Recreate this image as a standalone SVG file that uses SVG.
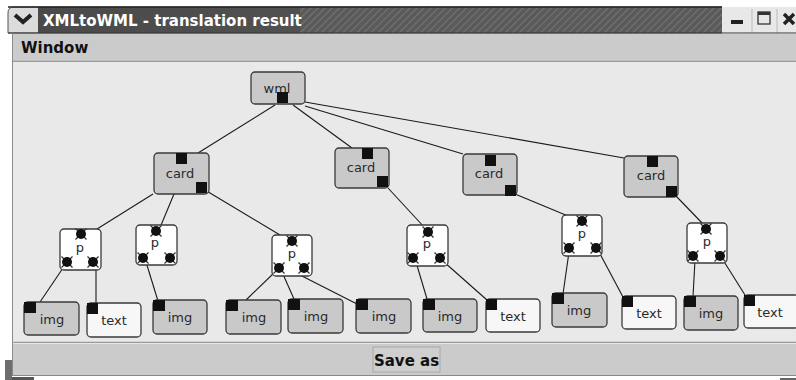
<svg xmlns="http://www.w3.org/2000/svg" width="796" height="380" viewBox="0 0 796 380">
  <defs>
    <style>
      .win { fill: #e9e9e9; }
      .bar { fill: #cbcbcb; }
      .sep { stroke: #9a9a9a; stroke-width: 1.5; }
      .title { font-family: "DejaVu Sans", "Liberation Sans", sans-serif; font-weight: bold; font-size: 15px; fill: #ffffff; }
      .menu { font-family: "DejaVu Sans", "Liberation Sans", sans-serif; font-weight: bold; font-size: 15px; fill: #111; }
      .btn { font-family: "DejaVu Sans", "Liberation Sans", sans-serif; font-weight: bold; font-size: 15px; fill: #111; }
      .box { stroke: #3a3a3a; stroke-width: 1.3; }
      .gray { fill: #c9c9c9; }
      .white { fill: #f7f7f7; }
      .pbox { fill: #ffffff; stroke: #3a3a3a; stroke-width: 1.3; }
      .lbl { font-family: "DejaVu Sans", "Liberation Sans", sans-serif; font-size: 13px; fill: #2a2a2a; text-anchor: middle; }
      .sq { fill: #111; }
      .edge { stroke: #1a1a1a; stroke-width: 1.1; fill: none; }
      .tick { stroke: #333; stroke-width: 1.2; }
    </style>
    <pattern id="stripes" width="5" height="5" patternUnits="userSpaceOnUse" patternTransform="rotate(45)">
      <rect width="5" height="5" fill="#5a5a5a"/>
      <line x1="0" y1="0" x2="0" y2="5" stroke="#7c7c7c" stroke-width="1.6"/>
    </pattern>
    <linearGradient id="tbar" x1="0" y1="0" x2="1" y2="0">
      <stop offset="0" stop-color="#4a4a4a"/>
      <stop offset="1" stop-color="#5a5a5a"/>
    </linearGradient>
    <!-- port marker used on p nodes: black dot with corner ticks -->
    <g id="port">
      <line class="tick" x1="-5.5" y1="-5.5" x2="5.5" y2="5.5"/>
      <line class="tick" x1="-5.5" y1="5.5" x2="5.5" y2="-5.5"/>
      <circle r="5" fill="#111"/>
    </g>
  </defs>

  <!-- background outside the window -->
  <rect width="796" height="380" fill="#ffffff"/>

  <!-- title bar -->
  <g id="titlebar">
    <path d="M8,33 L8,13 Q8,7 14,7 L722,7 L722,33 Z" fill="#dcdcdc" stroke="#555" stroke-width="1"/>
    <rect x="38" y="7" width="684" height="26" fill="url(#tbar)"/>
    <rect x="300" y="7" width="422" height="26" fill="url(#stripes)"/>
    <line x1="8" y1="7" x2="722" y2="7" stroke="#222" stroke-width="1.5"/>
    <path d="M15,15 L23,22 L31,15" fill="none" stroke="#222" stroke-width="4"/>
    <text class="title" x="43" y="26">XMLtoWML - translation result</text>
    <rect x="722" y="7" width="74" height="26" fill="#e8e8e8"/>
    <line x1="752" y1="9" x2="752" y2="33" stroke="#bbb"/>
    <line x1="777" y1="9" x2="777" y2="33" stroke="#bbb"/>
    <rect x="731" y="20" width="12" height="4" fill="#222"/>
    <rect x="758" y="12" width="12" height="12" fill="none" stroke="#333" stroke-width="1.3"/>
    <rect x="758" y="12" width="12" height="3" fill="#333"/>
    <path d="M784,14 L794,24 M794,14 L784,24" stroke="#222" stroke-width="3.5"/>
    <line x1="8" y1="33" x2="796" y2="33" stroke="#333" stroke-width="1"/>
  </g>

  <!-- menu bar -->
  <g id="menubar">
    <rect class="bar" x="12" y="34" width="784" height="27"/>
    <text class="menu" x="21" y="53">Window</text>
    <line class="sep" x1="12" y1="61.5" x2="796" y2="61.5"/>
  </g>

  <!-- drawing area -->
  <rect class="win" x="12" y="62" width="784" height="280"/>
  <line x1="12.5" y1="33" x2="12.5" y2="376" stroke="#8a8a8a" stroke-width="1"/>

  <!-- bottom bar -->
  <g id="savebar">
    <line class="sep" x1="12" y1="342.5" x2="796" y2="342.5"/>
    <rect class="bar" x="13" y="344" width="783" height="31"/>
    <line x1="12" y1="375.5" x2="796" y2="375.5" stroke="#8a8a8a"/>
    <rect x="373" y="347" width="67" height="25" fill="#cfcfcf" stroke="#a8a8a8" stroke-width="1"/>
    <text class="btn" x="406.5" y="366" text-anchor="middle">Save as</text>
    <rect x="5" y="360" width="7" height="20" fill="#6e6e6e"/>
    <rect x="12" y="377" width="22" height="3" fill="#555"/>
    <rect x="780" y="378" width="16" height="2" fill="#666"/>
  </g>

  <!-- connectors -->
  <g id="edges">
    <line class="edge" x1="275" y1="105" x2="198" y2="153"/>
    <line class="edge" x1="293" y1="105" x2="352" y2="148"/>
    <line class="edge" x1="305" y1="106" x2="463" y2="154"/>
    <line class="edge" x1="305" y1="102" x2="624" y2="158"/>
    <line class="edge" x1="153" y1="194" x2="97" y2="229"/>
    <line class="edge" x1="174" y1="194" x2="159" y2="230"/>
    <line class="edge" x1="205" y1="190" x2="280" y2="235"/>
    <line class="edge" x1="388" y1="188" x2="425" y2="228"/>
    <line class="edge" x1="515" y1="194" x2="568" y2="216"/>
    <line class="edge" x1="676" y1="196" x2="704" y2="225"/>
    <line class="edge" x1="63" y1="268" x2="40" y2="302"/>
    <line class="edge" x1="96" y1="268" x2="96" y2="304"/>
    <line class="edge" x1="146" y1="262" x2="158" y2="301"/>
    <line class="edge" x1="275" y1="272" x2="246" y2="300"/>
    <line class="edge" x1="282" y1="272" x2="294" y2="299"/>
    <line class="edge" x1="298" y1="274" x2="357" y2="304"/>
    <line class="edge" x1="416" y1="262" x2="427" y2="299"/>
    <line class="edge" x1="444" y1="262" x2="487" y2="300"/>
    <line class="edge" x1="569" y1="252" x2="563" y2="294"/>
    <line class="edge" x1="599" y1="252" x2="623" y2="297"/>
    <line class="edge" x1="695" y1="260" x2="693" y2="297"/>
    <line class="edge" x1="723" y1="260" x2="745" y2="295"/>
  </g>

  <!-- root -->
  <g id="wml">
    <rect class="box gray" x="251" y="72" width="54" height="32" rx="4"/>
    <text class="lbl" x="277" y="93">wml</text>
    <rect class="sq" x="277" y="92" width="11" height="11"/>
  </g>

  <!-- card nodes -->
  <g id="card1">
    <rect class="box gray" x="154" y="153" width="55" height="41" rx="4"/>
    <text class="lbl" x="180" y="178">card</text>
    <rect class="sq" x="176" y="153" width="11" height="11"/>
    <rect class="sq" x="196" y="182" width="11" height="11"/>
  </g>
  <g id="card2">
    <rect class="box gray" x="335" y="148" width="54" height="40" rx="4"/>
    <text class="lbl" x="361" y="172">card</text>
    <rect class="sq" x="362" y="148" width="11" height="11"/>
    <rect class="sq" x="377" y="176" width="11" height="11"/>
  </g>
  <g id="card3">
    <rect class="box gray" x="463" y="154" width="54" height="41" rx="4"/>
    <text class="lbl" x="489" y="178">card</text>
    <rect class="sq" x="485" y="155" width="11" height="11"/>
    <rect class="sq" x="505" y="185" width="11" height="11"/>
  </g>
  <g id="card4">
    <rect class="box gray" x="624" y="156" width="54" height="41" rx="4"/>
    <text class="lbl" x="651" y="180">card</text>
    <rect class="sq" x="647" y="156" width="11" height="11"/>
    <rect class="sq" x="666" y="186" width="11" height="11"/>
  </g>

  <!-- p nodes -->
  <g id="p1">
    <rect class="pbox" x="60" y="229" width="41" height="41" rx="4"/>
    <text class="lbl" x="80" y="252">p</text>
    <use href="#port" x="81" y="234"/>
    <use href="#port" x="67" y="262"/>
    <use href="#port" x="93" y="262"/>
  </g>
  <g id="p2">
    <rect class="pbox" x="136" y="225" width="41" height="40" rx="4"/>
    <text class="lbl" x="155" y="247">p</text>
    <use href="#port" x="156" y="231"/>
    <use href="#port" x="143" y="258"/>
    <use href="#port" x="170" y="258"/>
  </g>
  <g id="p3">
    <rect class="pbox" x="272" y="235" width="40" height="41" rx="4"/>
    <text class="lbl" x="292" y="258">p</text>
    <use href="#port" x="292" y="241"/>
    <use href="#port" x="279" y="268"/>
    <use href="#port" x="304" y="268"/>
  </g>
  <g id="p4">
    <rect class="pbox" x="407" y="225" width="41" height="41" rx="4"/>
    <text class="lbl" x="427" y="248">p</text>
    <use href="#port" x="428" y="232"/>
    <use href="#port" x="413" y="258"/>
    <use href="#port" x="440" y="258"/>
  </g>
  <g id="p5">
    <rect class="pbox" x="562" y="215" width="40" height="41" rx="4"/>
    <text class="lbl" x="582" y="238">p</text>
    <use href="#port" x="582" y="221"/>
    <use href="#port" x="569" y="248"/>
    <use href="#port" x="596" y="248"/>
  </g>
  <g id="p6">
    <rect class="pbox" x="687" y="223" width="40" height="40" rx="4"/>
    <text class="lbl" x="707" y="246">p</text>
    <use href="#port" x="706" y="229"/>
    <use href="#port" x="693" y="256"/>
    <use href="#port" x="720" y="256"/>
  </g>

  <!-- leaf nodes -->
  <g id="img1">
    <rect class="box gray" x="24" y="302" width="55" height="33" rx="4"/>
    <rect class="sq" x="24" y="302" width="12" height="11"/>
    <text class="lbl" x="52" y="324">img</text>
  </g>
  <g id="text1">
    <rect class="box white" x="87" y="303" width="54" height="34" rx="4"/>
    <rect class="sq" x="87" y="303" width="11" height="11"/>
    <text class="lbl" x="114" y="325">text</text>
  </g>
  <g id="img2">
    <rect class="box gray" x="153" y="300" width="54" height="34" rx="4"/>
    <rect class="sq" x="153" y="300" width="12" height="11"/>
    <text class="lbl" x="180" y="322">img</text>
  </g>
  <g id="img3">
    <rect class="box gray" x="226" y="300" width="55" height="34" rx="4"/>
    <rect class="sq" x="226" y="300" width="12" height="11"/>
    <text class="lbl" x="254" y="322">img</text>
  </g>
  <g id="img4">
    <rect class="box gray" x="288" y="299" width="55" height="34" rx="4"/>
    <rect class="sq" x="288" y="299" width="12" height="11"/>
    <text class="lbl" x="316" y="321">img</text>
  </g>
  <g id="img5">
    <rect class="box gray" x="356" y="299" width="55" height="34" rx="4"/>
    <rect class="sq" x="356" y="299" width="12" height="11"/>
    <text class="lbl" x="384" y="321">img</text>
  </g>
  <g id="img6">
    <rect class="box gray" x="423" y="299" width="54" height="33" rx="4"/>
    <rect class="sq" x="423" y="299" width="12" height="11"/>
    <text class="lbl" x="450" y="321">img</text>
  </g>
  <g id="text2">
    <rect class="box white" x="486" y="299" width="54" height="33" rx="4"/>
    <rect class="sq" x="486" y="299" width="11" height="11"/>
    <text class="lbl" x="513" y="321">text</text>
  </g>
  <g id="img7">
    <rect class="box gray" x="552" y="293" width="55" height="34" rx="4"/>
    <rect class="sq" x="552" y="293" width="12" height="11"/>
    <text class="lbl" x="579" y="315">img</text>
  </g>
  <g id="text3">
    <rect class="box white" x="622" y="296" width="54" height="33" rx="4"/>
    <rect class="sq" x="622" y="296" width="11" height="11"/>
    <text class="lbl" x="649" y="318">text</text>
  </g>
  <g id="img8">
    <rect class="box gray" x="684" y="296" width="54" height="34" rx="4"/>
    <rect class="sq" x="684" y="296" width="12" height="11"/>
    <text class="lbl" x="711" y="318">img</text>
  </g>
  <g id="text4">
    <rect class="box white" x="744" y="295" width="55" height="33" rx="4"/>
    <rect class="sq" x="744" y="295" width="11" height="11"/>
    <text class="lbl" x="770" y="317">text</text>
  </g>
</svg>
